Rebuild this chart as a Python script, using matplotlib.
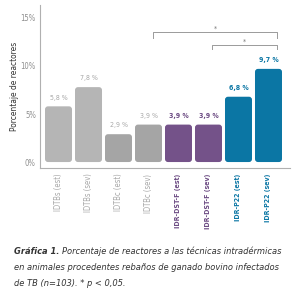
import matplotlib
matplotlib.use('Agg')
import matplotlib.pyplot as plt
from matplotlib.patches import FancyBboxPatch

# Datos
labels = ['IDTBs (est)', 'IDTBs (sev)', 'IDTBc (est)', 'IDTBc (sev)',
          'IDR-DST-F (est)', 'IDR-DST-F (sev)', 'IDR-P22 (est)', 'IDR-P22 (sev)']
values = [5.8, 7.8, 2.9, 3.9, 3.9, 3.9, 6.8, 9.7]
value_txt = ['5,8 %', '7,8 %', '2,9 %', '3,9 %', '3,9 %', '3,9 %', '6,8 %', '9,7 %']
yticks = [0, 5, 10, 15]
ytick_labels = ['0%', '5%', '10%', '15%']
groups = ['g1', 'g1', 'g2', 'g2', 'dst', 'dst', 'p22', 'p22']

bar_col = {'g1': '#b5b5b5', 'g2': '#a5a5a5', 'dst': '#745289', 'p22': '#0b76a4'}
txt_col = {'g1': '#a8a8a8', 'g2': '#a8a8a8', 'dst': '#6b4a82', 'p22': '#0b76a4'}
bold = {'g1': 'normal', 'g2': 'normal', 'dst': 'bold', 'p22': 'bold'}
tick_fs = {'g1': 5.5, 'g2': 5.5, 'dst': 5.0, 'p22': 5.0}

plt.rcParams['font.family'] = ['DejaVu Sans']
plt.rcParams['font.stretch'] = 'condensed'

W, H = 300, 300
fig = plt.figure(figsize=(3, 3), dpi=100)
# ejes en píxeles: x 40..290, y 5..168 (desde arriba)
ax = fig.add_axes([40 / W, 1 - 168 / H, 250 / W, 163 / H])
ax.set_xlim(-0.617, 7.717)
ax.set_ylim(-0.62, 16.35)

aspect = (1 / 9.667) / (1 / 30)
for i, v in enumerate(values):
    g = groups[i]
    p = FancyBboxPatch((i - 0.45, 0), 0.9, v,
                       boxstyle='round,pad=0,rounding_size=0.1',
                       mutation_aspect=aspect, fc=bar_col[g], ec='none')
    ax.add_patch(p)
    ax.text(i, v + 0.6, value_txt[i], ha='center', va='bottom', fontsize=5,
            color=txt_col[g], fontweight=bold[g])

for s in ['top', 'right']:
    ax.spines[s].set_visible(False)
ax.spines['left'].set_color('#b0b0b0')
ax.spines['bottom'].set_color('#b0b0b0')
ax.spines['left'].set_linewidth(0.8)
ax.spines['bottom'].set_linewidth(0.8)

ax.set_yticks(yticks)
ax.set_yticklabels(ytick_labels, fontsize=5.5, color='#8e8e8e')
ax.tick_params(axis='y', length=0, pad=3)
ax.set_xticks(range(len(labels)))
ax.set_xticklabels(labels, rotation=90, fontsize=5.5)
ax.tick_params(axis='x', length=0, pad=4)
for t, g in zip(ax.get_xticklabels(), groups):
    t.set_color(txt_col[g])
    t.set_fontweight(bold[g])
    t.set_fontsize(tick_fs[g])
ax.set_ylabel('Porcentaje de reactores', fontsize=6, color='#333333', labelpad=1)

# Corchetes de significación
def bracket(x1, x2, y, h, ys):
    ax.plot([x1, x1, x2, x2], [y - h, y, y, y - h], color='#9a9a9a', lw=0.7,
            clip_on=False)
    ax.text((x1 + x2) / 2, ys, '*', ha='center', va='center', fontsize=5,
            color='#777777')

bracket(3.15, 7.28, 13.58, 0.62, 13.85)
bracket(5.12, 7.28, 12.18, 0.4, 12.55)

# Pie de figura
cap_y = [251, 267, 283]
fs = 6.7
t0 = fig.text(14 / W, 1 - cap_y[0] / H, 'Gráfica 1.', fontsize=fs, fontweight='bold',
              style='italic', color='#333333', va='center')
fig.canvas.draw()
bb = t0.get_window_extent()
fig.text(bb.x1 / W + 3 / W, 1 - cap_y[0] / H,
         'Porcentaje de reactores a las técnicas intradérmicas',
         fontsize=fs, style='italic', color='#333333', va='center')
fig.text(14 / W, 1 - cap_y[1] / H,
         'en animales procedentes rebaños de ganado bovino infectados',
         fontsize=fs, style='italic', color='#333333', va='center')
fig.text(14 / W, 1 - cap_y[2] / H, 'de TB (n=103). * p < 0,05.',
         fontsize=fs, style='italic', color='#333333', va='center')

fig.savefig('out.png', dpi=100)
